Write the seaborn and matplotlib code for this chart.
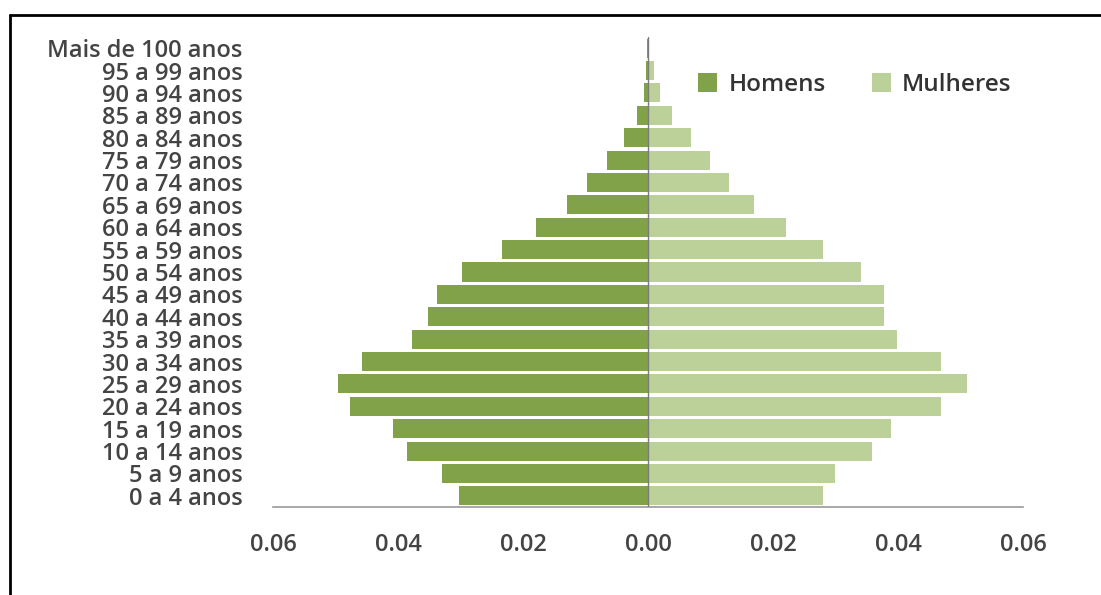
import matplotlib
matplotlib.use("Agg")
import matplotlib.pyplot as plt
from matplotlib.lines import Line2D
from matplotlib.ticker import FuncFormatter
from matplotlib.patches import Patch
import seaborn as sns
import pandas as pd

# Age groups, oldest first (top of the pyramid)
faixas = [
    "Mais de 100 anos", "95 a 99 anos", "90 a 94 anos", "85 a 89 anos",
    "80 a 84 anos", "75 a 79 anos", "70 a 74 anos", "65 a 69 anos",
    "60 a 64 anos", "55 a 59 anos", "50 a 54 anos", "45 a 49 anos",
    "40 a 44 anos", "35 a 39 anos", "30 a 34 anos", "25 a 29 anos",
    "20 a 24 anos", "15 a 19 anos", "10 a 14 anos", "5 a 9 anos",
    "0 a 4 anos",
]

# Share of total population by sex
homens = [
    0.0001, 0.0003, 0.0006, 0.0018, 0.0038, 0.0066, 0.0097, 0.0130,
    0.0179, 0.0234, 0.0298, 0.0337, 0.0352, 0.0378, 0.0457, 0.0496,
    0.0477, 0.0408, 0.0386, 0.0329, 0.0302,
]
mulheres = [
    0.0001, 0.0009, 0.0019, 0.0039, 0.0069, 0.0099, 0.0129, 0.0170,
    0.0220, 0.0280, 0.0340, 0.0378, 0.0378, 0.0399, 0.0469, 0.0510,
    0.0468, 0.0389, 0.0359, 0.0299, 0.0280,
]

series = ["Homens", "Mulheres"]
cores = ["#82A249", "#BCD09A"]

df = pd.DataFrame({"faixa": faixas,
                   "Homens": [-v for v in homens],
                   "Mulheres": mulheres})

sns.set_theme(style="white")
plt.rcParams["font.family"] = ["Open Sans", "DejaVu Sans"]

fig = plt.figure(figsize=(11.01, 5.95), dpi=100)
ax = fig.add_axes([273 / 1101, 1 - 507 / 595, 750 / 1101, 470 / 595])

for nome, cor in zip(series, cores):
    sns.barplot(data=df, x=nome, y="faixa", order=faixas, color=cor,
                orient="h", width=0.85, saturation=1, ax=ax,
                edgecolor="none", linewidth=0)

ax.set_xlim(-0.06, 0.06)
ax.set_ylim(len(faixas) - 0.5, -0.5)
ax.set_xticks([-0.06, -0.04, -0.02, 0.0, 0.02, 0.04, 0.06])
ax.xaxis.set_major_formatter(FuncFormatter(lambda v, p: f"{abs(v):.2f}"))
ax.set_xlabel("")
ax.set_ylabel("")

for s in ["top", "right", "left"]:
    ax.spines[s].set_visible(False)
ax.spines["bottom"].set_color("#9a9a9a")
ax.spines["bottom"].set_linewidth(1.2)
ax.axvline(0, color="#7a7a7a", linewidth=1.0, zorder=5)

ax.tick_params(axis="x", length=0, pad=19, labelsize=17, labelcolor="#444444")
ax.tick_params(axis="y", length=0, pad=22, labelsize=17, labelcolor="#444444")
for lab in ax.get_yticklabels() + ax.get_xticklabels():
    lab.set_fontweight("semibold")

handles = [Patch(facecolor=c, edgecolor="none", label=n)
           for n, c in zip(series, cores)]
leg = fig.legend(handles=handles, loc="center left", ncol=2, frameon=False,
                 bbox_to_anchor=(676 / 1101, 1 - 85 / 595),
                 prop={"size": 17.5, "weight": "semibold"},
                 handlelength=0.8, handleheight=0.8, handletextpad=0.45,
                 columnspacing=1.9, labelcolor="#333333")

# Frame lines along the left and top edges
fig.add_artist(Line2D([10 / 1101, 10 / 1101], [0, 1 - 15 / 595],
                      transform=fig.transFigure, color="black", linewidth=2))
fig.add_artist(Line2D([10 / 1101, 1], [1 - 15 / 595, 1 - 15 / 595],
                      transform=fig.transFigure, color="black", linewidth=2))

fig.savefig("out.png", dpi=100, facecolor="white")
